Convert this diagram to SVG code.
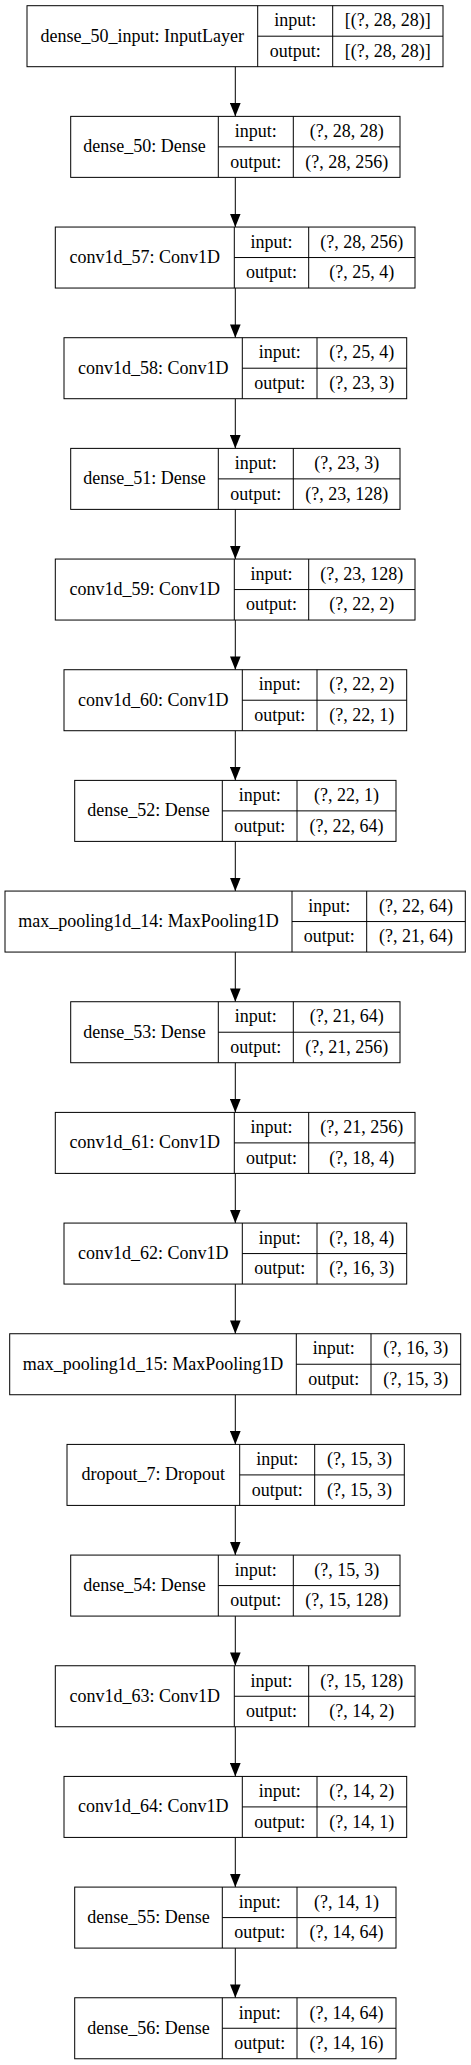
<svg xmlns="http://www.w3.org/2000/svg" width="471" height="2065" viewBox="0 0 471 2065">
<style>
rect{fill:#fff;stroke:#000;stroke-width:1}
line{stroke:#000;stroke-width:1}
text{font-family:"Liberation Serif","Times New Roman",serif;font-size:18px;fill:#000;text-anchor:middle}
.e{stroke:#000;stroke-width:1;fill:none}
</style>
<defs>
<marker id="ah" viewBox="0 0 13.3 10.7" refX="13.3" refY="5.35" markerWidth="13.3" markerHeight="10.7" markerUnits="userSpaceOnUse" orient="auto">
<path d="M0,0 L13.3,5.35 L0,10.7 z" fill="#000"/>
</marker>
</defs>
<rect x="0" y="0" width="471" height="2065" style="stroke:none;fill:#fff"/>
<g id="edges">
<path class="e" marker-end="url(#ah)" d="M235.3,66.7 V116.37"/>
<path class="e" marker-end="url(#ah)" d="M235.3,177.37 V227.04"/>
<path class="e" marker-end="url(#ah)" d="M235.3,288.04 V337.71"/>
<path class="e" marker-end="url(#ah)" d="M235.3,398.71 V448.38"/>
<path class="e" marker-end="url(#ah)" d="M235.3,509.38 V559.05"/>
<path class="e" marker-end="url(#ah)" d="M235.3,620.05 V669.72"/>
<path class="e" marker-end="url(#ah)" d="M235.3,730.72 V780.39"/>
<path class="e" marker-end="url(#ah)" d="M235.3,841.39 V891.06"/>
<path class="e" marker-end="url(#ah)" d="M235.3,952.06 V1001.73"/>
<path class="e" marker-end="url(#ah)" d="M235.3,1062.73 V1112.4"/>
<path class="e" marker-end="url(#ah)" d="M235.3,1173.4 V1223.07"/>
<path class="e" marker-end="url(#ah)" d="M235.3,1284.07 V1333.74"/>
<path class="e" marker-end="url(#ah)" d="M235.3,1394.74 V1444.41"/>
<path class="e" marker-end="url(#ah)" d="M235.3,1505.41 V1555.08"/>
<path class="e" marker-end="url(#ah)" d="M235.3,1616.08 V1665.75"/>
<path class="e" marker-end="url(#ah)" d="M235.3,1726.75 V1776.42"/>
<path class="e" marker-end="url(#ah)" d="M235.3,1837.42 V1887.09"/>
<path class="e" marker-end="url(#ah)" d="M235.3,1948.09 V1997.76"/>
</g>

<g id="dense_50_input" transform="translate(0,5.7)">
<rect x="27" y="0" width="416" height="61"/>
<line x1="257.7" y1="0" x2="257.7" y2="61"/><line x1="332.7" y1="0" x2="332.7" y2="61"/><line x1="257.7" y1="30.5" x2="443" y2="30.5"/>
<text x="142.35" y="36">dense_50_input: InputLayer</text>
<text x="295.2" y="20.75">input:</text><text x="387.85" y="20.75">[(?, 28, 28)]</text>
<text x="295.2" y="51.25">output:</text><text x="387.85" y="51.25">[(?, 28, 28)]</text>
</g>

<g id="dense_50" transform="translate(0,116.37)">
<rect x="70.7" y="0" width="329.3" height="61"/>
<line x1="218.3" y1="0" x2="218.3" y2="61"/><line x1="293.3" y1="0" x2="293.3" y2="61"/><line x1="218.3" y1="30.5" x2="400" y2="30.5"/>
<text x="144.5" y="36">dense_50: Dense</text>
<text x="255.8" y="20.75">input:</text><text x="346.65" y="20.75">(?, 28, 28)</text>
<text x="255.8" y="51.25">output:</text><text x="346.65" y="51.25">(?, 28, 256)</text>
</g>

<g id="conv1d_57" transform="translate(0,227.04)">
<rect x="55.3" y="0" width="359.7" height="61"/>
<line x1="234.3" y1="0" x2="234.3" y2="61"/><line x1="308.7" y1="0" x2="308.7" y2="61"/><line x1="234.3" y1="30.5" x2="415" y2="30.5"/>
<text x="144.8" y="36">conv1d_57: Conv1D</text>
<text x="271.5" y="20.75">input:</text><text x="361.85" y="20.75">(?, 28, 256)</text>
<text x="271.5" y="51.25">output:</text><text x="361.85" y="51.25">(?, 25, 4)</text>
</g>

<g id="conv1d_58" transform="translate(0,337.71)">
<rect x="64" y="0" width="342.7" height="61"/>
<line x1="242.3" y1="0" x2="242.3" y2="61"/><line x1="317" y1="0" x2="317" y2="61"/><line x1="242.3" y1="30.5" x2="406.7" y2="30.5"/>
<text x="153.15" y="36">conv1d_58: Conv1D</text>
<text x="279.65" y="20.75">input:</text><text x="361.85" y="20.75">(?, 25, 4)</text>
<text x="279.65" y="51.25">output:</text><text x="361.85" y="51.25">(?, 23, 3)</text>
</g>

<g id="dense_51" transform="translate(0,448.38)">
<rect x="70.7" y="0" width="329.3" height="61"/>
<line x1="218.3" y1="0" x2="218.3" y2="61"/><line x1="293.3" y1="0" x2="293.3" y2="61"/><line x1="218.3" y1="30.5" x2="400" y2="30.5"/>
<text x="144.5" y="36">dense_51: Dense</text>
<text x="255.8" y="20.75">input:</text><text x="346.65" y="20.75">(?, 23, 3)</text>
<text x="255.8" y="51.25">output:</text><text x="346.65" y="51.25">(?, 23, 128)</text>
</g>

<g id="conv1d_59" transform="translate(0,559.05)">
<rect x="55.3" y="0" width="359.7" height="61"/>
<line x1="234.3" y1="0" x2="234.3" y2="61"/><line x1="308.7" y1="0" x2="308.7" y2="61"/><line x1="234.3" y1="30.5" x2="415" y2="30.5"/>
<text x="144.8" y="36">conv1d_59: Conv1D</text>
<text x="271.5" y="20.75">input:</text><text x="361.85" y="20.75">(?, 23, 128)</text>
<text x="271.5" y="51.25">output:</text><text x="361.85" y="51.25">(?, 22, 2)</text>
</g>

<g id="conv1d_60" transform="translate(0,669.72)">
<rect x="64" y="0" width="342.7" height="61"/>
<line x1="242.3" y1="0" x2="242.3" y2="61"/><line x1="317" y1="0" x2="317" y2="61"/><line x1="242.3" y1="30.5" x2="406.7" y2="30.5"/>
<text x="153.15" y="36">conv1d_60: Conv1D</text>
<text x="279.65" y="20.75">input:</text><text x="361.85" y="20.75">(?, 22, 2)</text>
<text x="279.65" y="51.25">output:</text><text x="361.85" y="51.25">(?, 22, 1)</text>
</g>

<g id="dense_52" transform="translate(0,780.39)">
<rect x="74.7" y="0" width="321.3" height="61"/>
<line x1="222.3" y1="0" x2="222.3" y2="61"/><line x1="297" y1="0" x2="297" y2="61"/><line x1="222.3" y1="30.5" x2="396" y2="30.5"/>
<text x="148.5" y="36">dense_52: Dense</text>
<text x="259.65" y="20.75">input:</text><text x="346.5" y="20.75">(?, 22, 1)</text>
<text x="259.65" y="51.25">output:</text><text x="346.5" y="51.25">(?, 22, 64)</text>
</g>

<g id="max_pooling1d_14" transform="translate(0,891.06)">
<rect x="5" y="0" width="460.3" height="61"/>
<line x1="292" y1="0" x2="292" y2="61"/><line x1="366.7" y1="0" x2="366.7" y2="61"/><line x1="292" y1="30.5" x2="465.3" y2="30.5"/>
<text x="148.5" y="36">max_pooling1d_14: MaxPooling1D</text>
<text x="329.35" y="20.75">input:</text><text x="416" y="20.75">(?, 22, 64)</text>
<text x="329.35" y="51.25">output:</text><text x="416" y="51.25">(?, 21, 64)</text>
</g>

<g id="dense_53" transform="translate(0,1001.73)">
<rect x="70.7" y="0" width="329.3" height="61"/>
<line x1="218.3" y1="0" x2="218.3" y2="61"/><line x1="293.3" y1="0" x2="293.3" y2="61"/><line x1="218.3" y1="30.5" x2="400" y2="30.5"/>
<text x="144.5" y="36">dense_53: Dense</text>
<text x="255.8" y="20.75">input:</text><text x="346.65" y="20.75">(?, 21, 64)</text>
<text x="255.8" y="51.25">output:</text><text x="346.65" y="51.25">(?, 21, 256)</text>
</g>

<g id="conv1d_61" transform="translate(0,1112.4)">
<rect x="55.3" y="0" width="359.7" height="61"/>
<line x1="234.3" y1="0" x2="234.3" y2="61"/><line x1="308.7" y1="0" x2="308.7" y2="61"/><line x1="234.3" y1="30.5" x2="415" y2="30.5"/>
<text x="144.8" y="36">conv1d_61: Conv1D</text>
<text x="271.5" y="20.75">input:</text><text x="361.85" y="20.75">(?, 21, 256)</text>
<text x="271.5" y="51.25">output:</text><text x="361.85" y="51.25">(?, 18, 4)</text>
</g>

<g id="conv1d_62" transform="translate(0,1223.07)">
<rect x="64" y="0" width="342.7" height="61"/>
<line x1="242.3" y1="0" x2="242.3" y2="61"/><line x1="317" y1="0" x2="317" y2="61"/><line x1="242.3" y1="30.5" x2="406.7" y2="30.5"/>
<text x="153.15" y="36">conv1d_62: Conv1D</text>
<text x="279.65" y="20.75">input:</text><text x="361.85" y="20.75">(?, 18, 4)</text>
<text x="279.65" y="51.25">output:</text><text x="361.85" y="51.25">(?, 16, 3)</text>
</g>

<g id="max_pooling1d_15" transform="translate(0,1333.74)">
<rect x="9.7" y="0" width="451" height="61"/>
<line x1="296.3" y1="0" x2="296.3" y2="61"/><line x1="371" y1="0" x2="371" y2="61"/><line x1="296.3" y1="30.5" x2="460.7" y2="30.5"/>
<text x="153" y="36">max_pooling1d_15: MaxPooling1D</text>
<text x="333.65" y="20.75">input:</text><text x="415.85" y="20.75">(?, 16, 3)</text>
<text x="333.65" y="51.25">output:</text><text x="415.85" y="51.25">(?, 15, 3)</text>
</g>

<g id="dropout_7" transform="translate(0,1444.41)">
<rect x="67" y="0" width="337.3" height="61"/>
<line x1="239.7" y1="0" x2="239.7" y2="61"/><line x1="314.7" y1="0" x2="314.7" y2="61"/><line x1="239.7" y1="30.5" x2="404.3" y2="30.5"/>
<text x="153.35" y="36">dropout_7: Dropout</text>
<text x="277.2" y="20.75">input:</text><text x="359.5" y="20.75">(?, 15, 3)</text>
<text x="277.2" y="51.25">output:</text><text x="359.5" y="51.25">(?, 15, 3)</text>
</g>

<g id="dense_54" transform="translate(0,1555.08)">
<rect x="70.7" y="0" width="329.3" height="61"/>
<line x1="218.3" y1="0" x2="218.3" y2="61"/><line x1="293.3" y1="0" x2="293.3" y2="61"/><line x1="218.3" y1="30.5" x2="400" y2="30.5"/>
<text x="144.5" y="36">dense_54: Dense</text>
<text x="255.8" y="20.75">input:</text><text x="346.65" y="20.75">(?, 15, 3)</text>
<text x="255.8" y="51.25">output:</text><text x="346.65" y="51.25">(?, 15, 128)</text>
</g>

<g id="conv1d_63" transform="translate(0,1665.75)">
<rect x="55.3" y="0" width="359.7" height="61"/>
<line x1="234.3" y1="0" x2="234.3" y2="61"/><line x1="308.7" y1="0" x2="308.7" y2="61"/><line x1="234.3" y1="30.5" x2="415" y2="30.5"/>
<text x="144.8" y="36">conv1d_63: Conv1D</text>
<text x="271.5" y="20.75">input:</text><text x="361.85" y="20.75">(?, 15, 128)</text>
<text x="271.5" y="51.25">output:</text><text x="361.85" y="51.25">(?, 14, 2)</text>
</g>

<g id="conv1d_64" transform="translate(0,1776.42)">
<rect x="64" y="0" width="342.7" height="61"/>
<line x1="242.3" y1="0" x2="242.3" y2="61"/><line x1="317" y1="0" x2="317" y2="61"/><line x1="242.3" y1="30.5" x2="406.7" y2="30.5"/>
<text x="153.15" y="36">conv1d_64: Conv1D</text>
<text x="279.65" y="20.75">input:</text><text x="361.85" y="20.75">(?, 14, 2)</text>
<text x="279.65" y="51.25">output:</text><text x="361.85" y="51.25">(?, 14, 1)</text>
</g>

<g id="dense_55" transform="translate(0,1887.09)">
<rect x="74.7" y="0" width="321.3" height="61"/>
<line x1="222.3" y1="0" x2="222.3" y2="61"/><line x1="297" y1="0" x2="297" y2="61"/><line x1="222.3" y1="30.5" x2="396" y2="30.5"/>
<text x="148.5" y="36">dense_55: Dense</text>
<text x="259.65" y="20.75">input:</text><text x="346.5" y="20.75">(?, 14, 1)</text>
<text x="259.65" y="51.25">output:</text><text x="346.5" y="51.25">(?, 14, 64)</text>
</g>

<g id="dense_56" transform="translate(0,1997.76)">
<rect x="74.7" y="0" width="321.3" height="61"/>
<line x1="222.3" y1="0" x2="222.3" y2="61"/><line x1="297" y1="0" x2="297" y2="61"/><line x1="222.3" y1="30.5" x2="396" y2="30.5"/>
<text x="148.5" y="36">dense_56: Dense</text>
<text x="259.65" y="20.75">input:</text><text x="346.5" y="20.75">(?, 14, 64)</text>
<text x="259.65" y="51.25">output:</text><text x="346.5" y="51.25">(?, 14, 16)</text>
</g>
</svg>
